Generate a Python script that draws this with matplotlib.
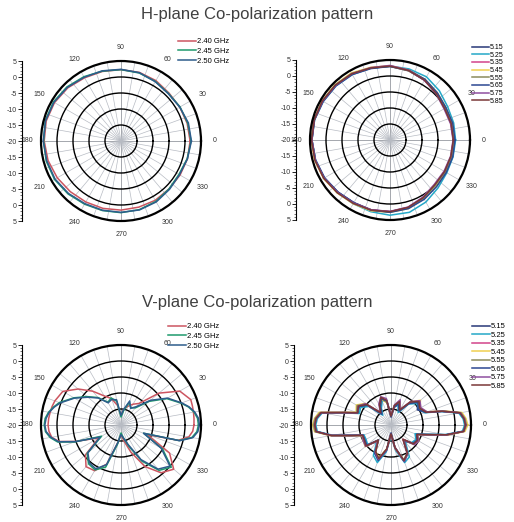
import numpy as np
import matplotlib.pyplot as plt

plt.rcParams['font.family'] = ['Liberation Sans', 'DejaVu Sans']

ang_h = np.arange(0, 360, 15)
ang_v = np.array([0, 5, 10, 15, 20, 30, 40, 50, 60, 70, 80, 90, 100, 110, 120, 130, 140,
                  150, 160, 165, 170, 175, 180, 185, 190, 195, 200, 210, 220, 230, 240,
                  250, 260, 270, 280, 290, 300, 310, 320, 330, 340, 345, 350, 355])

# H-plane, 2.4 GHz band (dB)
h24_labels = ['2.40 GHz', '2.45 GHz', '2.50 GHz']
h24_240 = [1.6, 1.4, 1.2, 1.2, 1.8, 2.2, 2.3, 2.5, 2.8, 3.5, 4.0, 4.2,
           4.0, 3.6, 3.0, 2.4, 2.0, 1.8, 1.6, 1.4, 1.4, 1.2, 1.3, 1.5]
h24_245 = [1.9, 1.6, 1.3, 1.0, 1.5, 2.0, 2.3, 2.6, 3.2, 3.9, 4.4, 4.5,
           4.2, 4.2, 4.0, 3.4, 2.8, 2.5, 2.4, 2.2, 1.8, 1.2, 0.9, 1.4]
h24_250 = [2.0, 1.8, 1.2, 0.9, 1.4, 2.1, 2.4, 2.7, 3.0, 3.7, 4.2, 4.4,
           4.3, 4.0, 3.8, 3.2, 2.6, 2.4, 2.3, 2.3, 2.0, 1.4, 1.1, 1.5]

# H-plane, 5 GHz band (dB)
h5_labels = ['5.15', '5.25', '5.35', '5.45', '5.55', '5.65', '5.75', '5.85']
h5_515 = [0.2, 0.0, -0.2, 0.6, 1.6, 2.4, 3.0, 3.3, 3.8, 4.1, 4.3, 4.5,
          4.4, 4.1, 3.7, 3.0, 2.6, 2.6, 2.4, 2.0, 1.2, 0.4, 0.2, 0.2]
h5_525 = [0.5, 0.6, 0.8, 1.8, 2.8, 3.0, 3.1, 3.2, 3.6, 3.9, 4.1, 4.4,
          4.4, 4.1, 3.7, 3.3, 3.0, 3.2, 3.5, 3.4, 2.4, 1.2, 0.5, 0.4]
h5_535 = [-0.2, -0.3, -0.2, 0.6, 1.6, 2.5, 3.2, 3.4, 3.9, 4.2, 4.4, 4.6,
          4.5, 4.3, 3.9, 3.2, 2.7, 2.6, 2.4, 1.8, 0.8, -0.2, -0.3, -0.2]
h5_545 = [0.0, 0.2, 0.2, 0.9, 1.9, 2.6, 3.2, 3.5, 4.2, 4.4, 4.5, 4.6,
          4.6, 4.4, 4.0, 3.4, 3.0, 2.9, 2.6, 2.2, 1.2, 0.2, 0.0, 0.0]
h5_555 = [-0.1, 0.0, 0.1, 0.8, 1.7, 2.4, 3.0, 3.3, 4.0, 4.3, 4.4, 4.5,
          4.5, 4.2, 3.9, 3.2, 2.8, 2.7, 2.5, 2.0, 1.0, 0.0, -0.1, -0.1]
h5_565 = [0.3, 0.3, 0.2, 0.9, 1.9, 2.6, 3.0, 3.1, 3.6, 3.9, 4.1, 4.4,
          4.4, 4.1, 3.6, 3.0, 2.6, 2.7, 2.6, 2.2, 1.4, 0.6, 0.3, 0.3]
h5_575 = [-0.3, -0.4, -0.5, 0.4, 1.5, 2.6, 3.3, 3.4, 3.9, 4.1, 4.3, 4.5,
          4.4, 4.2, 3.8, 3.2, 2.8, 2.6, 2.3, 1.7, 0.6, -0.4, -0.5, -0.4]
h5_585 = [-0.2, -0.2, -0.3, 0.5, 1.6, 2.5, 3.1, 3.3, 3.9, 4.2, 4.4, 4.5,
          4.5, 4.3, 3.9, 3.3, 2.9, 2.7, 2.4, 1.8, 0.8, -0.2, -0.3, -0.3]

# V-plane, 2.4 GHz band (dB)
v24_240 = [2.8, 2.9, 3.0, 3.1, 3.2, 1.2, -4.5, -11.2, -12.5, -13.8, -15.0, -17.0, -13.8, -11.2,
           -9.5, -6.2, -2.5, 1.0, 2.0, 2.3, 2.5, 2.7, 2.8, 2.6, 2.0, 0.0, -5.0, -12.0,
           -5.5, -3.0, -3.5, -7.0, -14.5, -17.0, -15.0, -11.0, -5.0, -0.5, 1.5, -2.5,
           -11.2, -1.5, 1.5, 2.5]
v24_245 = [4.2, 4.0, 3.2, 1.8, 0.0, -3.5, -8.5, -13.0, -13.8, -12.5, -15.5, -17.5, -12.5, -11.0,
           -11.8, -8.8, -6.2, -3.0, 0.5, 1.8, 3.0, 3.8, 4.0, 3.7, 2.5, 0.5, -4.5, -13.0,
           -6.2, -4.2, -3.8, -6.0, -14.0, -17.5, -16.0, -13.0, -7.0, -1.5, 0.5, -5.0,
           -12.5, -1.2, 2.5, 3.8]
v24_250 = [4.5, 4.3, 3.4, 2.0, 0.2, -3.2, -8.0, -12.5, -14.0, -12.0, -15.0, -17.0, -12.0, -11.5,
           -12.0, -9.0, -6.5, -3.2, 0.2, 1.6, 2.8, 3.5, 3.8, 3.5, 2.2, 0.2, -4.8, -12.5,
           -6.5, -4.6, -4.2, -6.8, -14.5, -17.0, -16.0, -13.5, -7.5, -2.0, 0.0, -5.5,
           -12.5, -1.0, 2.8, 4.1]

# V-plane, 5 GHz band (dB)
v5_515 = [3.2, 2.8, 1.8, -3.5, -8.5, -10.5, -9.0, -11.0, -15.0, -13.0, -14.5, -17.5, -12.5, -11.0,
          -13.5, -15.5, -10.5, -8.5, -9.0, -5.2, 2.0, 3.4, 3.8, 3.4, -1.2, -7.5, -10.8, -10.5,
          -10.0, -14.0, -10.0, -8.5, -12.0, -17.5, -13.0, -8.0, -10.0, -14.0, -11.0, -10.5,
          -11.5, -8.5, -2.5, 2.6]
v5_525 = [3.0, 2.6, 1.5, -3.8, -8.8, -10.0, -9.5, -11.5, -15.5, -13.5, -14.0, -17.0, -12.0, -12.0,
          -14.0, -16.0, -11.0, -9.0, -9.5, -5.5, 1.8, 3.1, 3.5, 3.1, -1.5, -7.8, -11.0, -11.0,
          -10.5, -13.0, -9.0, -7.5, -11.5, -16.5, -12.0, -7.5, -8.5, -13.0, -11.5, -11.0,
          -12.0, -8.8, -2.8, 2.4]
v5_535 = [3.5, 3.1, 2.0, -3.3, -8.2, -9.8, -8.5, -10.8, -14.8, -12.5, -14.0, -17.2, -12.8, -11.2,
          -12.8, -15.2, -10.0, -8.0, -8.8, -5.0, 2.4, 3.6, 4.0, 3.6, -1.0, -7.2, -10.5, -10.2,
          -9.8, -13.5, -10.2, -8.8, -12.2, -17.2, -12.8, -8.2, -9.8, -14.2, -10.8, -10.2,
          -11.2, -8.2, -2.2, 2.9]
v5_545 = [4.0, 3.5, 2.5, -3.0, -8.0, -9.5, -8.0, -10.5, -14.5, -12.0, -13.8, -17.0, -13.0, -11.5,
          -13.0, -15.0, -9.5, -7.5, -8.4, -4.7, 2.8, 4.0, 4.5, 4.0, -0.8, -7.0, -10.3, -10.0,
          -9.5, -13.8, -10.5, -9.0, -12.5, -17.0, -12.5, -8.5, -9.5, -13.8, -10.5, -10.0,
          -11.0, -8.0, -2.0, 3.2]
v5_555 = [3.6, 3.2, 2.2, -3.2, -8.2, -9.8, -8.4, -10.8, -14.6, -12.4, -14.0, -17.2, -12.8, -11.4,
          -13.2, -15.2, -9.8, -7.8, -8.6, -4.9, 2.5, 3.8, 4.2, 3.8, -0.9, -7.2, -10.4, -10.2,
          -9.8, -13.6, -10.4, -8.8, -12.4, -17.2, -12.6, -8.4, -9.8, -14.0, -10.6, -10.2,
          -11.2, -8.2, -2.2, 2.9]
v5_565 = [3.3, 2.9, 1.9, -3.5, -8.5, -10.2, -9.0, -11.2, -15.0, -13.0, -14.2, -17.4, -12.4, -11.2,
          -13.4, -15.6, -10.4, -8.4, -9.0, -5.1, 2.1, 3.4, 3.8, 3.4, -1.2, -7.4, -10.7, -10.6,
          -10.2, -13.8, -9.8, -8.2, -12.0, -17.4, -12.8, -7.8, -9.6, -13.6, -11.0, -10.6,
          -11.5, -8.5, -2.4, 2.7]
v5_575 = [3.4, 3.0, 2.0, -3.4, -8.0, -9.2, -8.2, -10.4, -14.4, -11.6, -13.6, -17.0, -11.6, -10.6,
          -12.4, -14.8, -9.6, -8.2, -8.8, -5.0, 2.2, 3.5, 3.9, 3.5, -1.1, -7.3, -10.5, -10.0,
          -9.6, -13.6, -10.2, -8.6, -12.2, -17.0, -12.6, -8.0, -9.6, -14.0, -10.4, -10.0,
          -11.2, -8.2, -2.3, 2.8]
v5_585 = [3.3, 2.9, 1.9, -3.4, -8.3, -9.6, -8.6, -10.6, -14.6, -12.2, -13.8, -17.2, -12.2, -10.8,
          -12.8, -15.0, -10.0, -8.2, -8.9, -5.0, 2.2, 3.5, 3.8, 3.5, -1.1, -7.3, -10.6, -10.4,
          -9.8, -13.8, -10.4, -8.8, -12.4, -17.2, -12.8, -8.2, -9.8, -14.2, -10.8, -10.4,
          -11.4, -8.4, -2.4, 2.8]

c24 = ['#cc5560', '#1e9a6c', '#2e5c8c']
c5 = ['#283878', '#25a8c8', '#d2448a', '#f0d050', '#8c8c5c', '#2c4892', '#9050a0', '#7a3838']

W, H = 514, 522
fig = plt.figure(figsize=(W / 100, H / 100), dpi=100)


def panel(cx, cy, R, axis_x, angles, series, labels, colors, leg_xy, leg_fs, leg_sp):
    ax = fig.add_axes([(cx - R) / W, 1 - (cy + R) / H, 2 * R / W, 2 * R / H],
                      projection='polar')
    th = np.radians(np.append(angles, angles[0]))
    lines = []
    for vals, col in zip(series, colors):
        l, = ax.plot(th, np.append(vals, vals[0]), color=col, lw=1.1)
        lines.append(l)
    ax.set_ylim(-20, 5)
    ax.set_rticks([-15, -10, -5, 0])
    ax.set_yticklabels([])
    ax.set_xticks(np.radians(np.arange(0, 360, 30)))
    ax.set_xticklabels([str(a) for a in range(0, 360, 30)], fontsize=5, color='#333333')
    ax.set_xticks(np.radians(np.arange(0, 360, 10)), minor=True)
    ax.tick_params(axis='x', which='both', pad=1, direction='out', length=2, width=0.6)
    ax.xaxis.grid(True, which='both', color='#b8bcc4', lw=0.5)
    ax.yaxis.grid(True, color='black', lw=1.0)
    ax.vlines(np.radians([0, 90, 180, 270]), -20, 5, colors='#666666', lw=0.6, zorder=1)
    ax.spines['polar'].set_linewidth(1.6)

    la = fig.add_axes([axis_x / W, 1 - (cy + R) / H, 0.0001, 2 * R / H])
    for s in ['top', 'right', 'bottom']:
        la.spines[s].set_visible(False)
    la.spines['left'].set_linewidth(0.8)
    la.patch.set_visible(False)
    la.set_xticks([])
    la.set_ylim(-25, 25)
    pos = np.arange(-25, 26, 5)
    la.set_yticks(pos)
    la.set_yticklabels([str(-20 + abs(p)) for p in pos], fontsize=5, color='#333333')
    la.set_yticks(np.arange(-25, 26, 1), minor=True)
    la.tick_params(axis='y', which='major', length=3, width=0.6, pad=1)
    la.tick_params(axis='y', which='minor', length=1.5, width=0.4)

    fig.legend(lines, labels, loc='upper left',
               bbox_to_anchor=(leg_xy[0] / W, 1 - leg_xy[1] / H),
               frameon=False, fontsize=leg_fs, handlelength=2.4, handletextpad=0.1,
               labelspacing=leg_sp, borderaxespad=0, borderpad=0)
    return ax


panel(121, 141, 80, 22, ang_h, [h24_240, h24_245, h24_250], h24_labels, c24,
      (178, 38), 5.5, 0.3)
panel(390, 140, 80, 296, ang_h,
      [h5_515, h5_525, h5_535, h5_545, h5_555, h5_565, h5_575, h5_585],
      h5_labels, c5, (472, 44), 5, 0.1)
panel(121, 425, 80, 22, ang_v, [v24_240, v24_245, v24_250], h24_labels, c24,
      (168, 323), 5.5, 0.3)
panel(391, 425, 80, 294, ang_v,
      [v5_515, v5_525, v5_535, v5_545, v5_555, v5_565, v5_575, v5_585],
      h5_labels, c5, (472, 323), 5.5, 0.15)

fig.text(0.5, 1 - 14 / H, 'H-plane Co-polarization pattern', ha='center', va='center',
         fontsize=12, color='#404040')
fig.text(0.5, 1 - 302 / H, 'V-plane Co-polarization pattern', ha='center', va='center',
         fontsize=12, color='#404040')

fig.savefig('out.png', dpi=100, facecolor='white')
